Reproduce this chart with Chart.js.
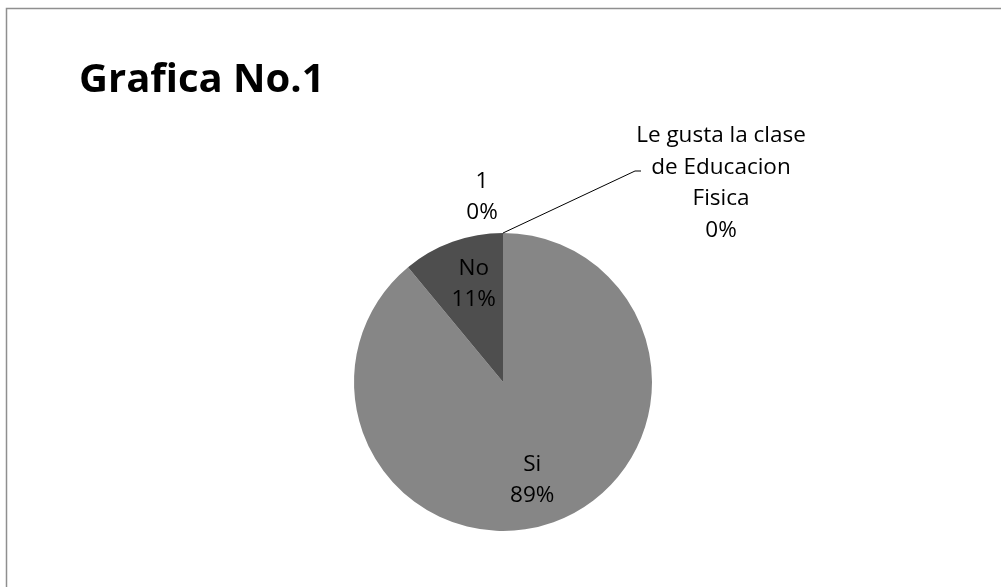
<!DOCTYPE html>
<html>
<head>
<meta charset="utf-8">
<script src="https://cdn.jsdelivr.net/npm/chart.js@4.4.1/dist/chart.umd.min.js"></script>
<style>
  html, body { margin: 0; padding: 0; background: #fff; }
  #wrap { width: 1001px; height: 587px; position: relative; }
</style>
</head>
<body>
<div id="wrap"><canvas id="pie"></canvas></div>
<script>
const chartTitle = 'Grafica No.1';
const categories = ['Le gusta la clase de Educacion Fisica', 'Si', 'No', '1'];
const labelLines = [['Le gusta la clase', 'de Educacion', 'Fisica'], ['Si'], ['No'], ['1']];
const values = [0, 89, 11, 0];
const sliceColors = ['#868686', '#868686', '#4e4e4e', '#4e4e4e'];

const FONT = '"Open Sans", Lato, sans-serif';

// frame + title + data labels, drawn over the pie
const decorations = {
  id: 'decorations',
  afterDraw(chart) {
    const ctx = chart.ctx;
    ctx.save();
    ctx.strokeStyle = '#8f8f8f';
    ctx.lineWidth = 1.5;
    ctx.beginPath();
    ctx.moveTo(6.5, 600);
    ctx.lineTo(6.5, 8.5);
    ctx.lineTo(1010, 8.5);
    ctx.stroke();

    ctx.fillStyle = '#000';
    ctx.font = 'bold 40px ' + FONT;
    ctx.textBaseline = 'alphabetic';
    ctx.textAlign = 'left';
    ctx.fillText(chartTitle, 79, 92);

    const total = values.reduce((a, b) => a + b, 0);
    const meta = chart.getDatasetMeta(0);
    ctx.font = '22.5px ' + FONT;
    ctx.textAlign = 'center';
    ctx.textBaseline = 'middle';
    const lh = 31.5;
    meta.data.forEach((arc, i) => {
      const { x, y, startAngle, endAngle, outerRadius } = arc.getProps(['x', 'y', 'startAngle', 'endAngle', 'outerRadius'], true);
      const pct = Math.round(values[i] / total * 100) + '%';
      const lines = labelLines[i].concat([pct]);
      const mid = (startAngle + endAngle) / 2;
      let cx, cy;
      if (values[i] > 0) {
        // inside label, pulled a little toward the vertical axis
        cx = x + Math.cos(mid) * outerRadius * 0.58;
        cy = y + Math.sin(mid) * outerRadius * 0.7;
      } else if (i === 0) {
        // leader line from the rim to the label on the right
        const ex = x + Math.cos(mid) * outerRadius;
        const ey = y + Math.sin(mid) * outerRadius;
        ctx.strokeStyle = '#000';
        ctx.lineWidth = 1;
        ctx.beginPath();
        ctx.moveTo(ex, ey);
        ctx.lineTo(ex + 132, ey - 62);
        ctx.lineTo(ex + 138, ey - 62);
        ctx.stroke();
        cx = ex + 218;
        cy = ey - 50;
      } else {
        cx = x + Math.cos(mid) * outerRadius - 21;
        cy = y + Math.sin(mid) * outerRadius - 36;
      }
      const top = cy - (lines.length - 1) * lh / 2;
      lines.forEach((t, k) => ctx.fillText(t, cx, top + k * lh));
    });
    ctx.restore();
  }
};

new Chart(document.getElementById('pie'), {
  type: 'pie',
  data: {
    labels: categories,
    datasets: [{
      data: values,
      backgroundColor: sliceColors,
      borderWidth: 0
    }]
  },
  options: {
    responsive: true,
    maintainAspectRatio: false,
    animation: false,
    layout: { padding: { top: 233, bottom: 56, left: 354, right: 349 } },
    plugins: {
      legend: { display: false },
      tooltip: { enabled: false },
      title: { display: false }
    }
  },
  plugins: [decorations]
});
</script>
</body>
</html>
